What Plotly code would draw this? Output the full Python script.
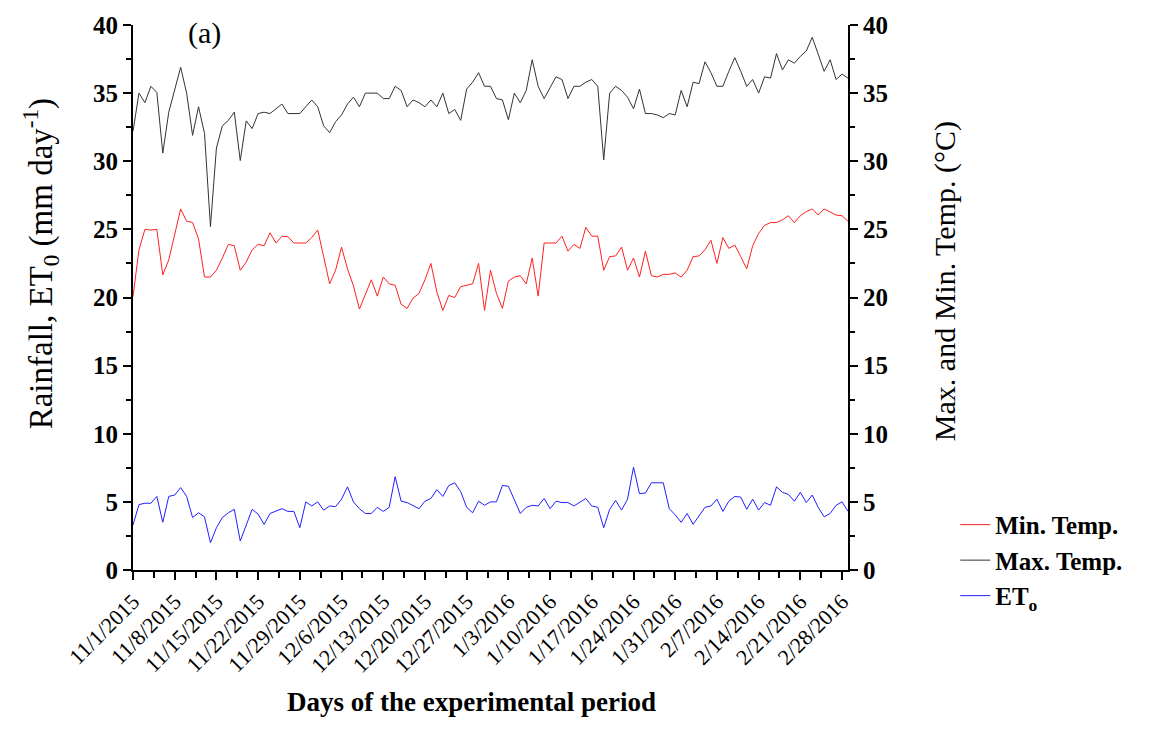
import pandas as pd
import plotly.graph_objects as go

start_date = "2015-11-01"
n_days = 121

max_temp = [32.2, 35.0, 34.3, 35.5, 35.05, 30.6, 33.6, 35.3, 36.9, 35.0,
            31.9, 34.0, 32.05, 25.2, 30.97, 32.6, 33.0, 33.6, 30.05, 32.96,
            32.4, 33.5, 33.6, 33.5, 33.85, 34.2, 33.5, 33.5, 33.5, 34.0,
            34.5, 34.0, 32.6, 32.1, 32.9, 33.4, 34.2, 34.7, 34.0, 35.0,
            35.0, 35.0, 34.6, 34.6, 35.5, 35.2, 34.0, 34.5, 34.3, 34.0,
            34.5, 34.0, 35.0, 33.5, 33.8, 33.0, 35.3, 35.8, 36.5, 35.5,
            35.5, 34.6, 34.5, 33.05, 35.0, 34.3, 35.2, 37.45, 35.5, 34.6,
            35.4, 36.2, 36.0, 34.6, 35.5, 35.5, 35.8, 36.0, 35.5, 30.1,
            35.0, 35.5, 35.2, 34.7, 33.85, 35.3, 33.5, 33.5, 33.4, 33.2,
            33.5, 33.4, 35.2, 34.0, 35.8, 35.7, 37.3, 36.5, 35.5, 35.5,
            36.6, 37.6, 36.6, 35.5, 36.0, 35.0, 36.2, 36.1, 37.9, 36.7,
            37.45, 37.2, 37.7, 38.1, 39.1, 37.8, 36.6, 37.45, 36.0, 36.4,
            36.1]

min_temp = [20.07, 23.5, 25.0, 24.95, 25.0, 21.66, 22.76, 24.7, 26.5, 25.6,
            25.5, 24.3, 21.5, 21.5, 22.0, 22.9, 23.9, 23.8, 22.0, 22.6,
            23.5, 23.9, 23.8, 24.75, 24.0, 24.5, 24.46, 24.0, 24.0, 24.0,
            24.4, 24.95, 23.0, 21.0, 22.0, 23.7, 22.1, 20.85, 19.15, 20.3,
            21.3, 20.1, 21.5, 21.0, 20.9, 19.5, 19.2, 19.95, 20.3, 21.3,
            22.5, 20.4, 19.05, 20.15, 20.0, 20.8, 20.9, 21.0, 22.5, 19.05,
            22.0, 20.3, 19.2, 21.2, 21.5, 21.6, 21.0, 22.9, 20.1, 24.0,
            24.0, 24.0, 24.5, 23.4, 23.9, 23.6, 25.15, 24.5, 24.5, 22.0,
            23.0, 23.05, 23.7, 22.0, 22.9, 21.5, 23.4, 21.6, 21.5, 21.7,
            21.7, 21.8, 21.5, 22.0, 23.0, 23.05, 23.5, 24.2, 22.5, 24.4,
            23.6, 23.85, 23.0, 22.1, 23.8, 24.7, 25.3, 25.5, 25.5, 25.7,
            26.0, 25.5, 26.0, 26.3, 26.5, 26.05, 26.5, 26.3, 26.05, 26.0,
            25.6]

eto = [3.3, 4.8, 4.9, 4.9, 5.4, 3.5, 5.4, 5.5, 6.05, 5.4,
       3.85, 4.2, 3.9, 2.0, 3.1, 3.85, 4.2, 4.45, 2.13, 3.35,
       4.45, 4.1, 3.35, 4.15, 4.3, 4.5, 4.3, 4.3, 3.1, 5.0,
       4.7, 5.0, 4.4, 4.7, 4.65, 5.2, 6.1, 5.0, 4.5, 4.15,
       4.15, 4.6, 4.3, 4.6, 6.85, 5.05, 4.95, 4.7, 4.5, 5.05,
       5.25, 5.9, 5.4, 6.2, 6.4, 5.75, 4.6, 4.2, 5.05, 4.75,
       5.0, 5.0, 6.2, 6.15, 5.2, 4.15, 4.6, 4.75, 4.7, 5.25,
       4.5, 5.05, 4.95, 4.95, 4.7, 4.95, 5.25, 4.7, 4.6, 3.1,
       4.45, 5.1, 4.4, 5.2, 7.55, 5.6, 5.65, 6.4, 6.4, 6.4,
       4.5, 4.05, 3.5, 4.15, 3.35, 3.95, 4.6, 4.7, 5.2, 4.3,
       5.05, 5.4, 5.35, 4.45, 5.2, 4.4, 4.95, 4.75, 6.1, 5.7,
       5.55, 5.05, 5.7, 4.95, 5.5, 4.6, 3.9, 4.15, 4.75, 5.0,
       4.3]

tick_dates = ["2015-11-01", "2015-11-08", "2015-11-15", "2015-11-22", "2015-11-29",
              "2015-12-06", "2015-12-13", "2015-12-20", "2015-12-27", "2016-01-03",
              "2016-01-10", "2016-01-17", "2016-01-24", "2016-01-31", "2016-02-07",
              "2016-02-14", "2016-02-21", "2016-02-28"]
tick_labels = ["11/1/2015", "11/8/2015", "11/15/2015", "11/22/2015", "11/29/2015",
               "12/6/2015", "12/13/2015", "12/20/2015", "12/27/2015", "1/3/2016",
               "1/10/2016", "1/17/2016", "1/24/2016", "1/31/2016", "2/7/2016",
               "2/14/2016", "2/21/2016", "2/28/2016"]

dates = pd.date_range(start_date, periods=n_days, freq="D")

SERIF = "Liberation Serif, Times New Roman, serif"

fig = go.Figure()
fig.add_trace(go.Scatter(x=dates, y=min_temp, mode="lines", name="<b>Min. Temp.</b>",
                         line=dict(color="#ff2020", width=1), yaxis="y2"))
fig.add_trace(go.Scatter(x=dates, y=max_temp, mode="lines", name="<b>Max. Temp.</b>",
                         line=dict(color="#333333", width=1), yaxis="y2"))
fig.add_trace(go.Scatter(x=dates, y=eto, mode="lines", name="<b>ET<sub>o</sub></b>",
                         line=dict(color="#2020ff", width=1)))

axis_common = dict(showline=True, linecolor="black", linewidth=2,
                   ticks="outside", ticklen=8, tickwidth=2, tickcolor="black",
                   showgrid=False, zeroline=False)

fig.update_layout(
    width=1168, height=746,
    margin=dict(l=133, r=320, t=21, b=176),
    paper_bgcolor="white", plot_bgcolor="white",
    font=dict(family=SERIF, color="black"),
    showlegend=True,
    legend=dict(x=1.15, y=0.125, xanchor="left", yanchor="top",
                font=dict(family=SERIF, size=25, color="black"),
                bgcolor="rgba(0,0,0,0)", tracegroupgap=0),
    xaxis=dict(**axis_common, type="date",
               range=[dates[0], dates[-1]],
               tickmode="array", tickvals=tick_dates, ticktext=tick_labels,
               tickangle=-45, tickfont=dict(family=SERIF, size=22),
               minor=dict(ticks="outside", ticklen=6, tickwidth=1.5, tickcolor="black",
                          dtick=3.5 * 86400000, tick0="2015-11-01", showgrid=False)),
    yaxis=dict(**axis_common, range=[0, 40], dtick=5, tick0=0,
               tickfont=dict(family=SERIF, size=25, weight="bold"),
               minor=dict(ticks="outside", ticklen=5, tickwidth=1.5, tickcolor="black",
                          dtick=2.5, showgrid=False)),
    yaxis2=dict(**axis_common, range=[0, 40], dtick=5, tick0=0, overlaying="y",
                side="right",
                tickfont=dict(family=SERIF, size=25, weight="bold"),
                minor=dict(ticks="outside", ticklen=5, tickwidth=1.5, tickcolor="black",
                           dtick=2.5, showgrid=False)),
    annotations=[
        dict(text="(a)", xref="paper", yref="paper", x=0.1, y=0.985,
             xanchor="center", yanchor="middle", showarrow=False,
             font=dict(family=SERIF, size=30, color="black")),
        dict(text="Rainfall, ET<sub>0</sub> (mm day<sup>-1</sup>)", xref="paper", yref="paper",
             x=-0.130, y=0.561, textangle=-90, xanchor="center", yanchor="middle",
             showarrow=False, font=dict(family=SERIF, size=33, color="black")),
        dict(text="Max. and Min. Temp. (°C)", xref="paper", yref="paper",
             x=1.1357, y=0.530, textangle=-90, xanchor="center", yanchor="middle",
             showarrow=False, font=dict(family=SERIF, size=30, color="black")),
        dict(text="<b>Days of the experimental period</b>", xref="paper", yref="paper",
             x=0.474, y=-0.242, xanchor="center", yanchor="middle",
             showarrow=False, font=dict(family=SERIF, size=27, color="black")),
    ],
)

fig.write_html("out.html")
